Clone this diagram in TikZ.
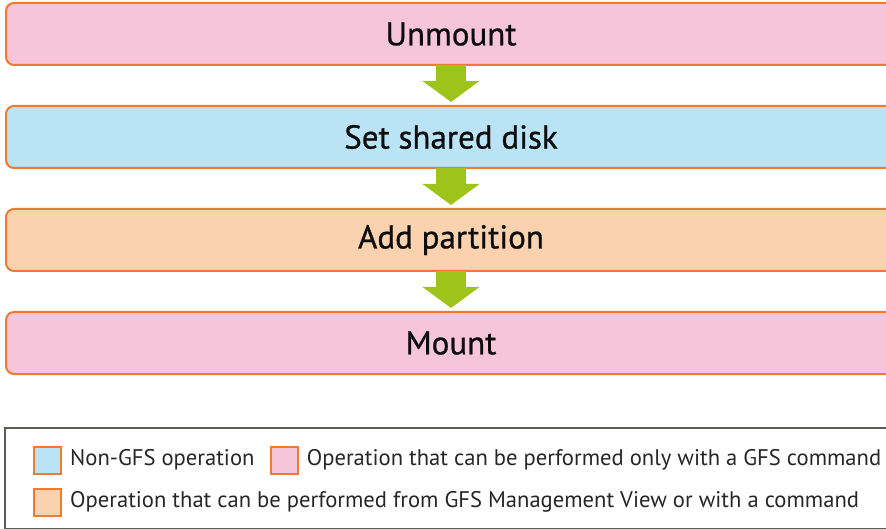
\documentclass[tikz,border=0pt]{standalone}
\usepackage{fontspec}
\setmainfont{PT Sans}
\newfontfamily\stepfont{PT Sans}[FakeBold=0.8]
\usetikzlibrary{arrows.meta, positioning}
\definecolor{steppink}{HTML}{F6C5DA}
\definecolor{stepblue}{HTML}{BAE3F6}
\definecolor{steppeach}{HTML}{FAD2AF}
\definecolor{stepedge}{HTML}{EE7B30}
\definecolor{flowgreen}{HTML}{9EC41C}
\definecolor{legendedge}{HTML}{5F5B56}
\tikzset{
  stepbox/.style={
    rectangle, rounded corners=8pt, minimum width=890pt, minimum height=62pt,
    outer sep=0pt, inner sep=0pt, draw=stepedge, line width=2pt, fill=#1,
    font=\stepfont\fontsize{33}{36}\selectfont, text=black!95
  },
  flow/.style={
    flowgreen, line width=30pt, shorten >=4pt,
    -{Triangle[width=56pt, length=21pt]}
  },
  keybox/.style={
    rectangle, minimum width=27pt, minimum height=27pt, inner sep=0pt,
    draw=stepedge, line width=2pt, fill=#1
  },
  keytext/.style={
    font=\fontsize{22.6}{24}\selectfont, text=black!85, inner sep=0pt, anchor=west
  }
}
\begin{document}
\begin{tikzpicture}[x=1pt, y=-1pt, node distance=41pt]
  \clip (0,0) rectangle (886,529);

  % Steps
  \node[stepbox=steppink] (unmount) at (451,34) {Unmount};
  \node[stepbox=stepblue, below=of unmount] (setdisk) {Set shared disk};
  \node[stepbox=steppeach, below=of setdisk] (addpart) {Add partition};
  \node[stepbox=steppink, below=of addpart] (mount) {Mount};

  % Flow
  \draw[flow] (unmount.south) -- (setdisk.north);
  \draw[flow] (setdisk.south) -- (addpart.north);
  \draw[flow] (addpart.south) -- (mount.north);

  % Legend
  \draw[legendedge, line width=1.5pt] (5,428) rectangle (900,528.5);
  \node[keybox=stepblue] (keyblue) at (47.5,460) {};
  \node[keytext, right=8pt of keyblue] (txtblue) {Non-GFS operation};
  \node[keybox=steppink, right=15pt of txtblue] (keypink) {};
  \node[keytext, right=8pt of keypink] (txtpink) {Operation that can be performed only with a GFS command};
  \node[keybox=steppeach] (keypeach) at (47.5,502) {};
  \node[keytext, right=8pt of keypeach] (txtpeach) {Operation that can be performed from GFS Management View or with a command};

\end{tikzpicture}
\end{document}
